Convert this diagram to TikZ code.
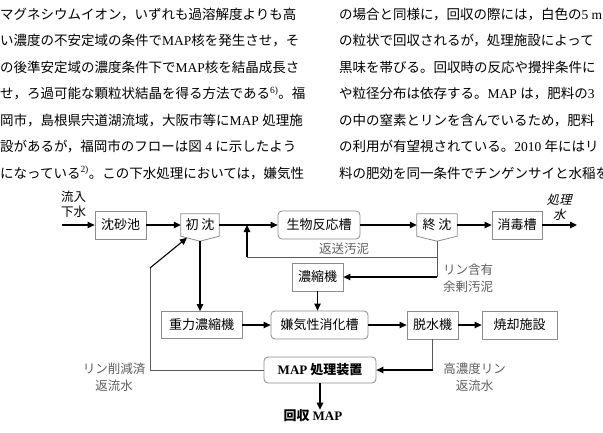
\documentclass[tikz,border=0pt]{standalone}
\usepackage{fontspec}
\setmainfont{Noto Sans CJK JP}
\newfontfamily\tms{Liberation Serif}
\newfontfamily\jpslant{Noto Sans CJK JP}[FakeSlant=0.25]
\usetikzlibrary{arrows.meta,positioning,calc}
\definecolor{boxgray}{RGB}{140,140,140}
\definecolor{labgray}{RGB}{95,95,95}

\begin{document}
\begin{tikzpicture}[x=1pt,y=-1pt,
    body/.style={anchor=base west, inner sep=0pt, font=\fontsize{13.5}{16}\selectfont},
    box/.style={rectangle, draw=boxgray, fill=white, line width=0.8pt,
                font=\fontsize{13}{15}\selectfont, minimum height=28pt, inner sep=2pt},
    rbox/.style={box, rounded corners=4pt},
    tank/.style={inner sep=0pt, minimum height=22pt, font=\fontsize{13}{15}\selectfont},
    tankline/.style={draw=boxgray, line width=0.8pt},
    lab/.style={text=labgray, align=center, inner sep=0pt, font=\fontsize{12.5}{17.5}\selectfont},
    arr/.style={-{Triangle[length=7pt,width=6.5pt]}, line width=1.1pt},
    ret/.style={draw=black!65, line width=0.8pt}
]
    \useasboundingbox (0,0) rectangle (603,432);
    \clip (0,0) rectangle (603,432);

    % body text, two columns
    \node[body] (l1) at (0,19) {マグネシウムイオン，いずれも過溶解度よりも高};
    \node[body] (l2) at (0,45.5) {い濃度の不安定域の条件で{\tms MAP}核を発生させ，そ};
    \node[body] (l3) at (0,72) {の後準安定域の濃度条件下で{\tms MAP}核を結晶成長さ};
    \node[body] (l4) at (0,98.5) {せ，ろ過可能な顆粒状結晶を得る方法である{\tms\textsuperscript{6)}}。福};
    \node[body] (l5) at (0,125) {岡市，島根県宍道湖流域，大阪市等に{\tms MAP }処理施};
    \node[body] (l6) at (0,151.5) {設があるが，福岡市のフローは図{\tms\ 4 }に示したよう};
    \node[body] (l7) at (0,178) {になっている{\tms\textsuperscript{2)}}。この下水処理においては，嫌気性};
    \node[body] (r1) at (339,19) {の場合と同様に，回収の際には，白色の{\tms 5 m}};
    \node[body] (r2) at (339,45.5) {の粒状で回収されるが，処理施設によって};
    \node[body] (r3) at (339,72) {黒味を帯びる。回収時の反応や攪拌条件に};
    \node[body] (r4) at (339,98.5) {や粒径分布は依存する。{\tms MAP }は，肥料の{\tms 3}};
    \node[body] (r5) at (339,125) {の中の窒素とリンを含んでいるため，肥料};
    \node[body] (r6) at (339,151.5) {の利用が有望視されている。{\tms 2010 }年にはリ};
    \node[body] (r7) at (339,178) {料の肥効を同一条件でチンゲンサイと水稲を};

    % water line
    \node[box, minimum width=51pt] (sa) at (120.5,225) {沈砂池};
    \node[tank, minimum width=38pt] (sc) at (200,225) {初 沈};
    \node[rbox, minimum width=82pt] (bio) at (319,225) {生物反応槽};
    \node[tank, minimum width=40pt] (st) at (437,225) {終 沈};
    \node[box, minimum width=50pt] (dis) at (517,225) {消毒槽};
    \foreach \t in {sc,st} {
        \draw[tankline] (\t.north west) -- (\t.north east) -- (\t.south east)
            -- ([yshift=-5pt]\t.south) -- (\t.south west) -- cycle;
        \coordinate (\t-tip) at ([yshift=-5pt]\t.south);
    }

    % sludge line
    \node[box, minimum width=51pt] (conc) at (317.5,277) {濃縮機};
    \node[box, minimum width=81pt, minimum height=27pt] (grav) at (201.5,325) {重力濃縮機};
    \node[rbox, minimum width=97pt] (ad) at (319.5,325) {嫌気性消化槽};
    \node[box, minimum width=51pt] (dw) at (432.5,325) {脱水機};
    \node[box, minimum width=75pt] (inc) at (519.5,325) {焼却施設};
    \node[rbox, minimum width=112pt, minimum height=26pt] (map) at (320,370)
        {{\tms\bfseries MAP} \bfseries 処理装置};
    \node[inner sep=0pt, font=\fontsize{13}{15}\selectfont\bfseries] (rec) at (313,416)
        {回収 {\tms\bfseries MAP}};

    % labels
    \node[inner sep=0pt, align=center, font=\fontsize{12.5}{15.5}\selectfont] (inlab) at (73.5,204) {流入\\下水};
    \node[inner sep=0pt, align=center, font=\fontsize{12.5}{15}\selectfont\jpslant] (outlab) at (559,207) {処理\\水};
    \node[lab] (rslab) at (344,249) {返送汚泥};
    \node[lab, align=left, anchor=west] (exlab) at (443,278) {リン含有\\余剰汚泥};
    \node[lab] (hplab) at (474.5,377) {高濃度リン\\返流水};
    \node[lab] (lplab) at (114,377) {リン削減済\\返流水};

    % connectors
    \coordinate (in) at (62,225);
    \coordinate (out) at (577,225);
    \coordinate (j1) at (247,225);
    \coordinate (rs) at (247,257);
    \coordinate (lp) at (150,268);
    \coordinate (sc-in) at ($(sc.south west)!0.32!(sc-tip)$);

    \draw[arr] (in) -- (sa.west);
    \foreach \a/\b in {sa/sc,sc/bio,bio/st,st/dis} \draw[arr] (\a.east) -- (\b.west);
    \draw[arr] (dis.east) -- (out);
    \draw[ret] (st-tip) |- (rs);
    \draw[arr] (rs) -- (j1);
    \draw[ret] (st-tip) -- (st-tip |- conc.east);
    \draw[arr] (st-tip |- conc.east) -- (conc.east);
    \draw[arr] (sc-tip) -- (sc-tip |- grav.north);
    \draw[arr] (conc.south) -- (conc.south |- ad.north);
    \foreach \a/\b in {grav/ad,ad/dw,dw/inc} \draw[arr] (\a.east) -- (\b.west);
    \draw[ret] (dw.south) -- (dw.south |- map.east);
    \draw[arr] (dw.south |- map.east) -- (map.east);
    \draw[arr] (map.south) -- (map.south |- rec.north);
    \draw[ret] (map.west) -| (lp);
    \draw[arr] (lp) -- (sc-in);
\end{tikzpicture}
\end{document}
